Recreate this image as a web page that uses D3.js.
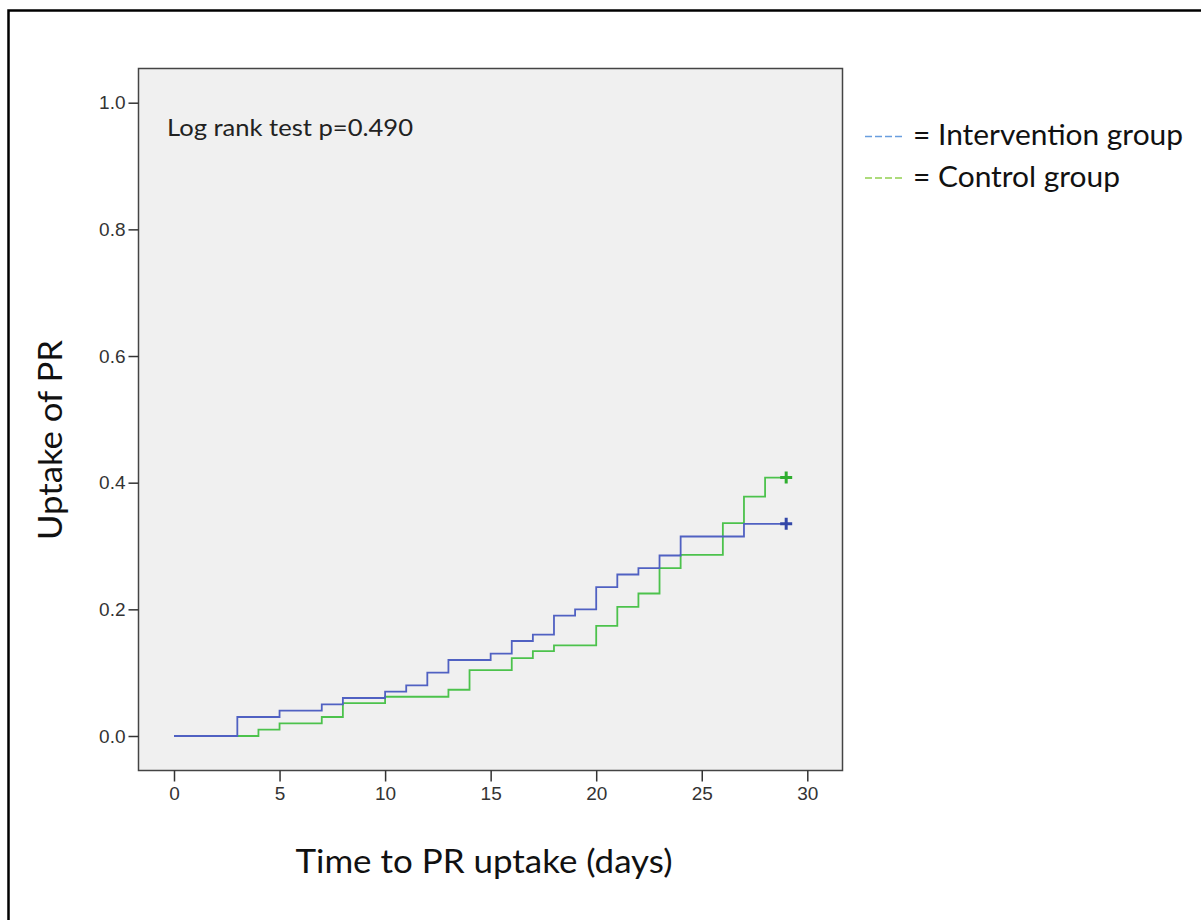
<!DOCTYPE html>
<html>
<head>
<meta charset="utf-8">
<script src="https://cdn.jsdelivr.net/npm/d3@7"></script>
<style>
  body { margin: 0; background: #fff; }
  svg { display: block; }
</style>
</head>
<body>
<svg width="1201" height="920"></svg>
<script>
// Kaplan-Meier style cumulative uptake
var interventionDays = [0, 3, 5, 7, 8, 10, 11, 12, 13, 15, 16, 17, 18, 19, 20, 21, 22, 23, 24, 27];
var interventionUptake = [0, 0.03, 0.04, 0.05, 0.06, 0.07, 0.08, 0.10, 0.12, 0.13, 0.15, 0.16, 0.19, 0.20, 0.235, 0.255, 0.265, 0.285, 0.315, 0.335];
var interventionCensor = 29;

var controlDays = [0, 4, 5, 7, 8, 10, 13, 14, 16, 17, 18, 20, 21, 22, 23, 24, 26, 27, 28];
var controlUptake = [0, 0.01, 0.02, 0.03, 0.052, 0.062, 0.073, 0.104, 0.123, 0.134, 0.143, 0.174, 0.204, 0.225, 0.265, 0.286, 0.336, 0.378, 0.408];
var controlCensor = 29;

var xTicks = [0, 5, 10, 15, 20, 25, 30];
var yTicks = [0, 0.2, 0.4, 0.6, 0.8, 1.0];

var legendLabels = ["= Intervention group", "= Control group"];

var svg = d3.select("svg");

// outer frame (only top and left edges are visible)
svg.append("rect")
    .attr("x", 8.5).attr("y", 10.5)
    .attr("width", 1400).attr("height", 1000)
    .attr("fill", "none").attr("stroke", "#000").attr("stroke-width", 2.5);

var box = { left: 138.5, top: 68.5, right: 842.5, bottom: 770.5 };

var x = d3.scaleLinear().domain([0, 30]).range([174, 807.3]);
var y = d3.scaleLinear().domain([0, 1]).range([736, 102.7]);

svg.append("rect")
    .attr("x", box.left).attr("y", box.top)
    .attr("width", box.right - box.left).attr("height", box.bottom - box.top)
    .attr("fill", "#f0f0f0").attr("stroke", "#444").attr("stroke-width", 1.5);

var xAxis = svg.append("g")
    .attr("transform", "translate(0," + box.bottom + ")")
    .call(d3.axisBottom(x).tickValues(xTicks).tickSize(11).tickPadding(5).tickFormat(d3.format("d")));
xAxis.select(".domain").remove();

var yAxis = svg.append("g")
    .attr("transform", "translate(" + box.left + ",0)")
    .call(d3.axisLeft(y).tickValues(yTicks).tickSize(10).tickPadding(3).tickFormat(d3.format(".1f")));
yAxis.select(".domain").remove();

svg.selectAll(".tick text")
    .attr("font-family", "'Liberation Sans Narrow', 'Liberation Sans', Arial, sans-serif")
    .attr("font-size", 19)
    .attr("fill", "#333");
svg.selectAll(".tick line")
    .attr("stroke", "#333")
    .attr("stroke-width", 1.5);

function steps(days, vals, censor) {
    var pts = days.map(function(d, i) { return [d, vals[i]]; });
    pts.push([censor, vals[vals.length - 1]]);
    return pts;
}

var line = d3.line()
    .x(function(d) { return x(d[0]); })
    .y(function(d) { return y(d[1]); })
    .curve(d3.curveStepAfter);

var series = [
    { pts: steps(controlDays, controlUptake, controlCensor), color: "#4cc24c", mark: "#2fae2f" },
    { pts: steps(interventionDays, interventionUptake, interventionCensor), color: "#5061c2", mark: "#3347a8" }
];

series.forEach(function(s) {
    svg.append("path")
        .attr("d", line(s.pts))
        .attr("fill", "none")
        .attr("stroke", s.color)
        .attr("stroke-width", 1.8);

    var last = s.pts[s.pts.length - 1];
    var cx = x(last[0]), cy = y(last[1]);
    svg.append("path")
        .attr("d", "M" + (cx - 6) + "," + cy + "H" + (cx + 6) + "M" + cx + "," + (cy - 6) + "V" + (cy + 6))
        .attr("stroke", s.mark)
        .attr("stroke-width", 3);
});

svg.append("text")
    .attr("x", 167).attr("y", 136)
    .attr("font-family", "Lato, sans-serif").attr("font-size", 23)
    .attr("textLength", 246).attr("lengthAdjust", "spacingAndGlyphs")
    .attr("fill", "#222")
    .text("Log rank test p=0.490");

// axis titles
svg.append("text")
    .attr("x", 484).attr("y", 873)
    .attr("text-anchor", "middle")
    .attr("font-family", "Lato, sans-serif").attr("font-size", 32)
    .attr("textLength", 377).attr("lengthAdjust", "spacingAndGlyphs")
    .attr("fill", "#111")
    .text("Time to PR uptake (days)");

svg.append("text")
    .attr("transform", "translate(62,440) rotate(-90)")
    .attr("text-anchor", "middle")
    .attr("font-family", "Lato, sans-serif").attr("font-size", 32)
    .attr("textLength", 200).attr("lengthAdjust", "spacingAndGlyphs")
    .attr("fill", "#111")
    .text("Uptake of PR");

// legend
var legendColors = ["#6a9ede", "#92d050"];
var legendWidths = [270, 207];
var legend = svg.append("g");
legendLabels.forEach(function(lbl, i) {
    var ly = 136.5 + i * 41.5;
    legend.append("line")
        .attr("x1", 865).attr("x2", 904)
        .attr("y1", ly).attr("y2", ly)
        .attr("stroke", legendColors[i])
        .attr("stroke-width", 1.3)
        .attr("stroke-dasharray", "7,3");
    legend.append("text")
        .attr("x", 913).attr("y", ly + 8.5)
        .attr("font-family", "Lato, sans-serif").attr("font-size", 28)
        .attr("textLength", legendWidths[i]).attr("lengthAdjust", "spacingAndGlyphs")
        .attr("fill", "#111")
        .text(lbl);
});
</script>
</body>
</html>
